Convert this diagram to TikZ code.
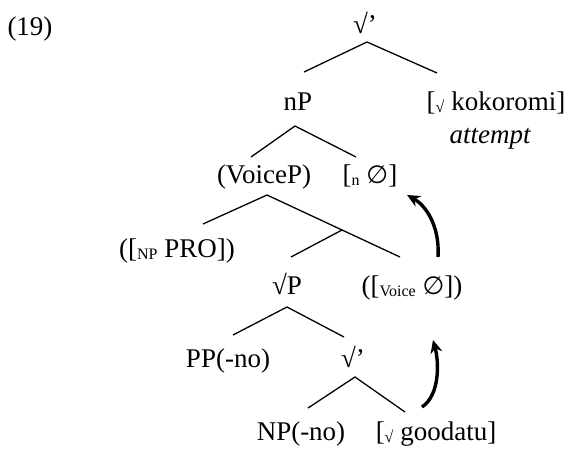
\documentclass[tikz,border=0pt]{standalone}
\usepackage{fontspec}
\setmainfont{Liberation Serif}
\newfontfamily\symf{DejaVu Sans}
\usetikzlibrary{arrows.meta}
\newcommand\sbs[1]{\raisebox{-0.2ex}{\fontsize{16}{16}\selectfont #1}}
\newcommand\nullsym{{\symf\fontsize{25}{30}\selectfont ∅}}
\begin{document}
\begin{tikzpicture}[x=1pt,y=-1pt,
  lbl/.style={anchor=base,inner sep=0pt,font=\fontsize{27}{30}\selectfont},
  edge/.style={line width=1.3pt},
  mv/.style={line width=3.4pt,-{Stealth[length=13pt,width=12pt]}}]
\useasboundingbox (0,0) rectangle (568,448);
% labels
\node[lbl] (n19) at (30,35) {(19)};
\node[lbl] (root) at (365,33) {√’};
\node[lbl] (nP) at (298,110) {nP};
\node[lbl] (kok) at (496,110) {[\sbs{√} kokoromi]};
\node[lbl] (att) at (490,143) {\itshape attempt};
\node[lbl] (voiceP) at (264,183) {(VoiceP)};
\node[lbl] (nnull) at (370,183) {[\sbs{n} \nullsym]};
\node[lbl] (pro) at (177,257) {([\sbs{NP} PRO])};
\node[lbl] (rootP) at (287,294) {√P};
\node[lbl] (vnull) at (412,294) {([\sbs{Voice} \nullsym])};
\node[lbl] (pp) at (228,367) {PP(-no)};
\node[lbl] (rbar) at (353,367) {√’};
\node[lbl] (np) at (301,440) {NP(-no)};
\node[lbl] (good) at (436,440) {[\sbs{√} goodatu]};
% tree points
\coordinate (a0) at (367,42);  \coordinate (a0l) at (304,72);  \coordinate (a0r) at (437,73);
\coordinate (a1) at (295,126); \coordinate (a1l) at (251,157); \coordinate (a1r) at (356,157);
\coordinate (a2) at (267,195); \coordinate (a2l) at (203,224); \coordinate (a2r) at (400,257);
\coordinate (a3) at (342,230); \coordinate (a3l) at (291,257);
\coordinate (a4) at (287,307); \coordinate (a4l) at (233,335); \coordinate (a4r) at (344,337);
\coordinate (a5) at (355,377); \coordinate (a5l) at (308,408); \coordinate (a5r) at (405,412);
\draw[edge] (a0l) -- (a0) -- (a0r);
\draw[edge] (a1l) -- (a1) -- (a1r);
\draw[edge] (a2l) -- (a2) -- (a2r);
\draw[edge] (a3) -- (a3l);
\draw[edge] (a4l) -- (a4) -- (a4r);
\draw[edge] (a5l) -- (a5) -- (a5r);
% movement arrows
\coordinate (m1s) at (438,257); \coordinate (m1e) at (407,195);
\coordinate (m2s) at (422,407); \coordinate (m2e) at (433,340);
\draw[mv] (m1s) .. controls (440,225) and (425,205) .. (m1e);
\draw[mv] (m2s) .. controls (440,395) and (439,362) .. (m2e);
\end{tikzpicture}
\end{document}
